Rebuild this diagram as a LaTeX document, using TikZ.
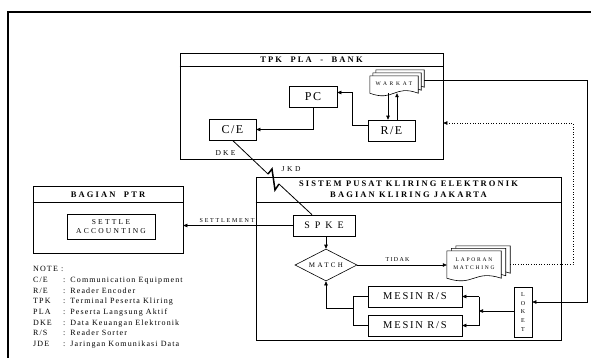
\documentclass[tikz,border=0pt]{standalone}
\usepackage{fontspec}
\setmainfont{Liberation Serif}
\usetikzlibrary{shapes.geometric, calc, arrows.meta}
\newcommand{\fsz}[2]{\fontsize{#1}{#2}\selectfont}
\newcommand{\trk}[1]{\addfontfeature{LetterSpace=#1}}
% one sheet of a stacked document, shifted by (#2,#3)
\newcommand{\docpage}[3]{%
  \draw[pg] ([shift={(#2,#3)}]#1.north west) -- ([shift={(#2,#3)}]#1.north east)
    -- ([shift={(#2,#3)}]#1.south east)
    .. controls ([shift={(#2,#3-9)}]#1.south) and ([shift={(#2,#3+9)}]#1.south)
    .. ([shift={(#2,#3)}]#1.south west) -- cycle;}

\begin{document}
\begin{tikzpicture}[x=1pt, y=-1pt,
  box/.style={draw, line width=0.6pt, inner sep=0pt, align=center},
  pg/.style={draw, fill=white, line width=0.6pt},
  arr/.style={-{Triangle[length=4pt,width=3.5pt]}, line width=0.6pt},
  dotarr/.style={-{Triangle[length=4pt,width=3.5pt]}, line width=0.6pt, dotted},
  hd/.style={font=\fsz{8.5}{11}\bfseries\trk{25}, align=center, inner sep=0pt},
  big/.style={font=\fsz{12}{14}\trk{12}},
  lbl/.style={inner sep=0pt, align=center}
]
  \useasboundingbox (0,0) rectangle (591,357);
  \draw[line width=1.8pt] (8,380) -- (8,12) -- (620,12);

  % TPK PLA - BANK
  \node[box, minimum width=263pt, minimum height=106pt] (tpk) at (311.5,106) {};
  \draw[line width=0.6pt] ([yshift=-14pt]tpk.north west) -- ([yshift=-14pt]tpk.north east);
  \node[hd] (tpkhd) at ($(tpk.north)+(0,7)$) {TPK~~PLA~~-~~BANK};
  \node[box, big, minimum width=48pt, minimum height=21pt] (pc) at (313,96.5) {PC};
  \node[box, big, minimum width=47pt, minimum height=21pt] (ce) at (232.5,129.5) {C/E};
  \node[box, big, minimum width=47pt, minimum height=21pt] (re) at (391.5,130.5) {R/E};
  \node[inner sep=0pt, minimum width=48pt, minimum height=17pt] (warkat) at (394,84.5) {};
  \docpage{warkat}{6}{-6}
  \docpage{warkat}{3}{-3}
  \docpage{warkat}{0}{0}
  \node[lbl, font=\fsz{5.5}{7}\trk{50}] (warkattxt) at ($(warkat)+(0,-1)$) {WARKAT};

  \draw[arr] (pc.south) |- (ce.east);
  \draw[arr] ([yshift=5pt]re.west) -- ++(-15,0) |- ([yshift=4pt]pc.east);
  \draw[arr] ([xshift=-6pt]warkat.south) -- ([xshift=-6pt]warkat.south |- re.north);
  \draw[arr] ([xshift=3pt]warkat.south |- re.north) -- ([xshift=3pt]warkat.south);

  % BAGIAN PTR
  \node[box, minimum width=150pt, minimum height=67pt] (ptr) at (108,219.5) {};
  \draw[line width=0.6pt] ([yshift=-17pt]ptr.north west) -- ([yshift=-17pt]ptr.north east);
  \node[hd] (ptrhd) at ($(ptr.north)+(0,9)$) {BAGIAN~~PTR};
  \node[box, minimum width=88pt, minimum height=25pt, font=\fsz{7.5}{9.5}\trk{30}] (settle) at (111,226.5) {SETTLE\\ACCOUNTING};

  % SISTEM PUSAT KLIRING ELEKTRONIK
  \node[box, minimum width=305pt, minimum height=163pt] (sistem) at (408.5,258.5) {};
  \draw[line width=0.6pt] ([yshift=-26pt]sistem.north west) -- ([yshift=-26pt]sistem.north east);
  \node[hd] (sistemhd) at ($(sistem.north)+(0,13)$) {SISTEM PUSAT KLIRING ELEKTRONIK\\BAGIAN KLIRING JAKARTA};
  \node[box, minimum width=62pt, minimum height=21pt, font=\fsz{10}{12}\trk{25}] (spke) at (324,225.5) {S P K E};
  \node[draw, diamond, aspect=1.9, line width=0.6pt, inner sep=0pt, minimum width=62pt, minimum height=32pt, font=\fsz{7}{8}\trk{34}] (match) at (326,265) {MATCH};
  \node[inner sep=0pt, minimum width=54pt, minimum height=27pt] (lap) at (474,264.5) {};
  \docpage{lap}{9}{-5}
  \docpage{lap}{4.5}{-2.5}
  \docpage{lap}{0}{0}
  \node[lbl, font=\fsz{5.5}{8.5}\trk{32}] (laptxt) at ($(lap)+(0,-1)$) {LAPORAN\\MATCHING};
  \node[box, minimum width=94pt, minimum height=21pt, font=\fsz{10.5}{12}\trk{17}] (mesina) at (415,296.5) {MESIN R/S};
  \node[box, minimum width=94pt, minimum height=21pt, font=\fsz{10.5}{12}\trk{17}] (mesinb) at (415,325.5) {MESIN R/S};
  \node[box, minimum width=18pt, minimum height=50pt, font=\fsz{6}{8.7}] (loket) at (523,312) {L\\O\\K\\E\\T};

  \draw[arr] (spke.south -| match.north) -- (match.north);
  \draw[arr] (match.east) -- (match.east -| lap.west)
    node[pos=0.45, above=3pt, lbl, font=\fsz{6}{7}\trk{22}] {TIDAK};
  \coordinate (bus) at (479,311);
  \draw[arr] (loket.west |- bus) -- (bus);
  \draw[line width=0.6pt] (bus |- mesina.east) -- (bus |- mesinb.east);
  \draw[arr] (bus |- mesina.east) -- (mesina.east);
  \draw[arr] (bus |- mesinb.east) -- (mesinb.east);
  \coordinate (lbus) at (353,308);
  \draw[line width=0.6pt] (mesina.west) -| (lbus |- mesinb.west) -- (mesinb.west);
  \draw[arr] (lbus) -| (match.south);
  \draw[arr] (spke.west) -- (spke.west -| ptr.east)
    node[pos=0.6, above=3pt, lbl, font=\fsz{6}{7}\trk{30}] {SETTLEMENT};

  % links between the parts
  \draw[line width=0.8pt] (ce.south) -- (268,174);
  \draw[line width=1.5pt, line join=miter] (268,174) -- (272,169) -- (275,190) -- (279,184);
  \draw[line width=0.8pt] (279,184) -- ([xshift=-12pt]spke.north);
  \node[lbl, font=\fsz{7.5}{9}\trk{30}] (dke) at ($(ce.south)+(-7,13)$) {DKE};
  \node[lbl, font=\fsz{7.5}{9}\trk{35}] (jkd) at (291,169) {JKD};
  \coordinate (rt) at (587,302);
  \draw[arr] ([xshift=6pt,yshift=4pt]warkat.east) -| (rt) -- (loket.east |- rt);
  \coordinate (dt) at (573,123);
  \draw[dotarr] ([xshift=9pt]lap.east) -| (dt) -- (tpk.east |- dt);

  % note
  \node[anchor=north west, inner sep=0pt, font=\fsz{8}{10.7}\trk{14}] (note) at (33,264)
  {\begin{tabular}{@{}p{30pt}@{}l@{}}
    \multicolumn{2}{@{}l@{}}{NOTE :}\\
    C/E & :\hspace{5pt}Communication Equipment\\
    R/E & :\hspace{5pt}Reader Encoder\\
    TPK & :\hspace{5pt}Terminal Peserta Kliring\\
    PLA & :\hspace{5pt}Peserta Langsung Aktif\\
    DKE & :\hspace{5pt}Data Keuangan Elektronik\\
    R/S & :\hspace{5pt}Reader Sorter\\
    JDE & :\hspace{5pt}Jaringan Komunikasi Data
  \end{tabular}};
\end{tikzpicture}
\end{document}
